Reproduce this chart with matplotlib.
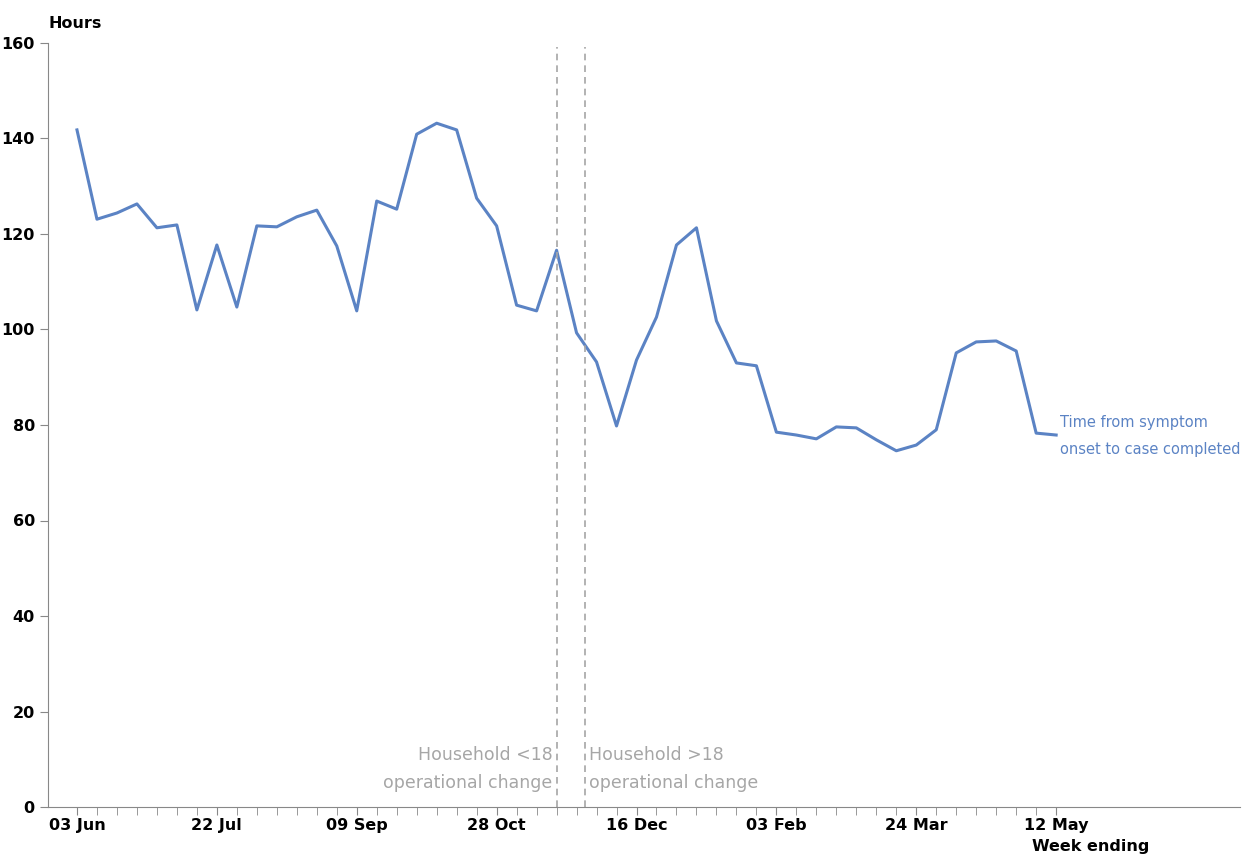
import matplotlib.pyplot as plt

hours = [141.8, 123.1, 124.4, 126.3, 121.3, 121.9, 104.1, 117.7, 104.7, 121.7,
         121.5, 123.6, 125.0, 117.5, 103.9, 126.9, 125.2, 140.9, 143.2, 141.8,
         127.5, 121.7, 105.1, 103.9, 116.6, 99.3, 93.2, 79.8, 93.6, 102.6,
         117.7, 121.3, 101.8, 93.0, 92.4, 78.5, 77.9, 77.1, 79.6, 79.4,
         76.9, 74.6, 75.8, 79.0, 95.1, 97.4, 97.6, 95.5, 78.3, 77.9]
weeks = list(range(len(hours)))
tick_labels = ["03 Jun", "22 Jul", "09 Sep", "28 Oct", "16 Dec", "03 Feb", "24 Mar", "12 May"]
tick_pos = [0, 7, 14, 21, 28, 35, 42, 49]
changes = [24, 25.4]

fig = plt.figure(figsize=(12.44, 8.58), dpi=100)
ax = fig.add_axes([48/1244, 1 - 807/858, (1240-48)/1244, (807-43)/858])
blue = "#5b83c4"
grey = "#a6a6a6"
ax.plot(weeks, hours, color=blue, lw=2.2)
for c in changes:
    ax.axvline(c, ymax=0.995, color=grey, ls=(0, (4, 3)), lw=1.2)

ax.set_xlim(-1.45, 58.2)
ax.set_ylim(0, 160)
ax.set_xticks(tick_pos)
ax.set_xticklabels(tick_labels, fontsize=11.5, fontweight="bold")
ax.set_xticks(weeks, minor=True)
ax.set_yticks(range(0, 161, 20))
ax.tick_params(axis="y", labelsize=11.5)
for t in ax.get_yticklabels():
    t.set_fontweight("bold")
ax.tick_params(which="both", color="#888888", length=6)
ax.tick_params(axis="x", pad=2)
for s in ["top", "right"]:
    ax.spines[s].set_visible(False)
for s in ["left", "bottom"]:
    ax.spines[s].set_color("#888888")

ax.text(-1.4, 162.5, "Hours", fontsize=11.5, fontweight="bold", ha="left", va="bottom")
ax.text(47.8, -6.6, "Week ending", fontsize=11.5, fontweight="bold", ha="left", va="top")
ax.text(49.2, 77.7, "Time from symptom\nonset to case completed", color=blue,
        fontsize=10.5, va="center", linespacing=2.0)
ax.text(23.8, 8, "Household <18\noperational change", color=grey, fontsize=12.5,
        ha="right", va="center", linespacing=1.75)
ax.text(25.6, 8, "Household >18\noperational change", color=grey, fontsize=12.5,
        ha="left", va="center", linespacing=1.75)

fig.savefig("out.png")
